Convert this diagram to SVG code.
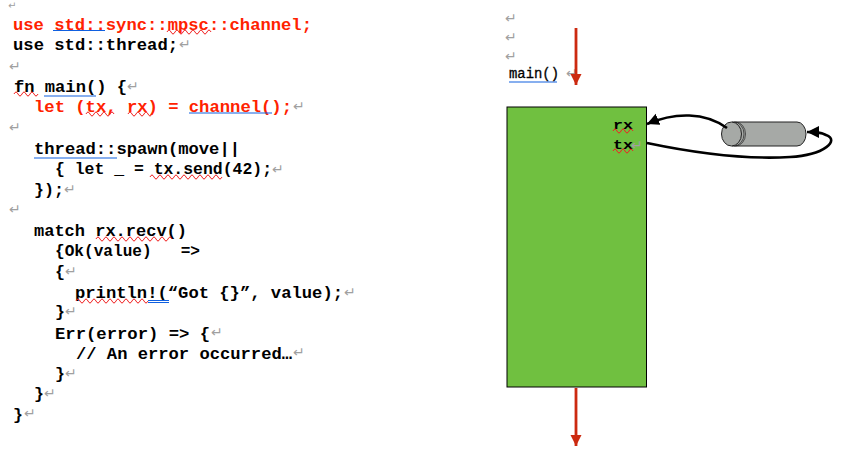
<svg xmlns="http://www.w3.org/2000/svg" width="843" height="457" viewBox="0 0 843 457">
<style>
text{font-family:"Liberation Mono","Courier New",monospace;font-weight:700;font-size:16px;fill:#000;white-space:pre}
.r{fill:#ff2200}
.p{font-family:"DejaVu Sans",sans-serif;font-weight:400;font-size:14px;fill:#a0a0a0}
.b{fill:none;stroke:#1060e0;stroke-width:1.100}
.w{fill:none;stroke:#f02020;stroke-width:1}
.a{fill:none;stroke:#cc2a10;stroke-width:2.800}
.k{fill:none;stroke:#000;stroke-width:2.600}
</style>
<defs>
<marker id="ra" markerUnits="userSpaceOnUse" markerWidth="12" markerHeight="12" refX="11" refY="5.500" orient="auto"><path d="M0 0L11 5.500L0 11Z" fill="#cc2a10"/></marker>
<marker id="ka" markerUnits="userSpaceOnUse" markerWidth="14" markerHeight="14" refX="12" refY="6" orient="auto"><path d="M0 0L12 6L0 12Z" fill="#000"/></marker>
</defs>
<g id="code">
<text class="r" x="13" y="30" textLength="299" lengthAdjust="spacingAndGlyphs">use std::sync::mpsc::channel;</text>
<text x="13" y="50" textLength="165" lengthAdjust="spacingAndGlyphs">use std::thread;</text>
<text x="14" y="92" textLength="113" lengthAdjust="spacingAndGlyphs">fn main() {</text>
<text class="r" x="34" y="112" textLength="258" lengthAdjust="spacingAndGlyphs">let (tx, rx) = channel();</text>
<text x="34" y="154" textLength="206" lengthAdjust="spacingAndGlyphs">thread::spawn(move||</text>
<text x="55" y="174" textLength="217" lengthAdjust="spacingAndGlyphs">{ let _ = tx.send(42);</text>
<text x="34" y="195" textLength="30" lengthAdjust="spacingAndGlyphs">});</text>
<text x="34" y="236" textLength="153" lengthAdjust="spacingAndGlyphs">match rx.recv()</text>
<text x="55" y="256" textLength="145" lengthAdjust="spacingAndGlyphs">{Ok(value)   =&gt;</text>
<text x="55" y="277" textLength="10" lengthAdjust="spacingAndGlyphs">{</text>
<text x="75" y="298" textLength="268" lengthAdjust="spacingAndGlyphs">println!(“Got {}”, value);</text>
<text x="55" y="317" textLength="10" lengthAdjust="spacingAndGlyphs">}</text>
<text x="55" y="339" textLength="155" lengthAdjust="spacingAndGlyphs">Err(error) =&gt; {</text>
<text x="76" y="359" textLength="216" lengthAdjust="spacingAndGlyphs">// An error occurred…</text>
<text x="55" y="379" textLength="10" lengthAdjust="spacingAndGlyphs">}</text>
<text x="34" y="399" textLength="10" lengthAdjust="spacingAndGlyphs">}</text>
<text x="13" y="420" textLength="10" lengthAdjust="spacingAndGlyphs">}</text>
</g>
<g id="paragraph-marks">
<text class="p" x="8" y="9" style="font-size:10px">↵</text>
<text class="p" x="179" y="49">↵</text>
<text class="p" x="9" y="71">↵</text>
<text class="p" x="127" y="91">↵</text>
<text class="p" x="293" y="111">↵</text>
<text class="p" x="9" y="132">↵</text>
<text class="p" x="272" y="174">↵</text>
<text class="p" x="64" y="194">↵</text>
<text class="p" x="9" y="214">↵</text>
<text class="p" x="65" y="276">↵</text>
<text class="p" x="344" y="297">↵</text>
<text class="p" x="65" y="316">↵</text>
<text class="p" x="211" y="337">↵</text>
<text class="p" x="293" y="357">↵</text>
<text class="p" x="65" y="378">↵</text>
<text class="p" x="44" y="398">↵</text>
<text class="p" x="24" y="418">↵</text>
<text class="p" x="505" y="23">↵</text>
<text class="p" x="505" y="42">↵</text>
<text class="p" x="505" y="61">↵</text>
<text class="p" x="566" y="78">↵</text>
</g>
<g id="proofing-marks">
<path class="b" d="M53 30.500H105M44 96H96M189 113H272M34 158H117M509 82H557M148 300.500H169M148 302.500H169"/>
<path class="w" d="M167 32q2-4 4 0t4 0t4 0t4 0t4 0t4 0t4 0t4 0t4 0t4 0t4 0"/>
<path class="w" d="M14 94q2-4 4 0t4 0t4 0t4 0t4 0t4 0"/>
<path class="w" d="M86 114q2-4 4 0t4 0t4 0t4 0t4 0t4 0t4 0"/>
<path class="w" d="M128 114q2-4 4 0t4 0t4 0t4 0t4 0t4 0"/>
<path class="w" d="M150 177q2-4 4 0t4 0t4 0t4 0t4 0t4 0t4 0t4 0t4 0t4 0t4 0t4 0t4 0t4 0t4 0t4 0t4 0t4 0"/>
<path class="w" d="M96 239q2-4 4 0t4 0t4 0t4 0t4 0t4 0t4 0t4 0t4 0t4 0t4 0t4 0t4 0t4 0t4 0t4 0t4 0t4 0t4 0"/>
<path class="w" d="M76 301q2-4 4 0t4 0t4 0t4 0t4 0t4 0t4 0t4 0t4 0t4 0t4 0t4 0t4 0t4 0t4 0t4 0t4 0t4 0"/>
</g>
<g id="thread-node">
<rect x="507" y="107" width="139.500" height="280" fill="#70c040" stroke="#000" stroke-width="1"/>
<text x="613" y="129" style="font-size:13px" textLength="20" lengthAdjust="spacingAndGlyphs">rx</text>
<text x="613" y="149" style="font-size:13px" textLength="20" lengthAdjust="spacingAndGlyphs">tx</text>
<path class="w" d="M613 131q2-4 4 0t4 0t4 0t4 0t4 0"/>
<path class="w" d="M613 151q2-4 4 0t4 0t4 0t4 0t4 0"/>
<text class="p" x="631" y="150">↵</text>
</g>
<g id="main-label">
<text x="509" y="78" style="font-size:14px;font-weight:400;stroke:#000;stroke-width:.3" textLength="50" lengthAdjust="spacingAndGlyphs">main()</text>
</g>
<g id="channel-node">
<path d="M732 122H797a9 12 0 0 1 0 24H732Z" fill="#a6a9a6" stroke="#222" stroke-width="1"/>
<path d="M734 122a10 12 0 0 1 0 24M735.500 122a10 12 0 0 1 0 24" fill="none" stroke="#222" stroke-width=".7"/>
<ellipse cx="731.500" cy="134" rx="10" ry="12" fill="#a6a9a6" stroke="#222" stroke-width="1"/>
</g>
<g id="connectors">
<path class="a" d="M576 28V85" marker-end="url(#ra)"/>
<path class="a" d="M576 388V446" marker-end="url(#ra)"/>
<path class="k" d="M727 128C705 112 675 112 647 124" marker-end="url(#ka)"/>
<path class="k" d="M647 143C690 152 740 160 790 157C825 155 840 140 826 135C820 132 815 132 807 132" marker-end="url(#ka)"/>
</g>
</svg>
